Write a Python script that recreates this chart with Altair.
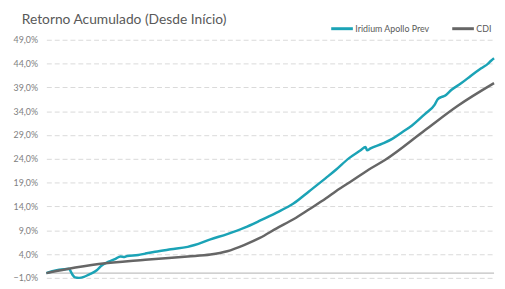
import altair as alt
import pandas as pd

# Period index (approximate position along the time axis) and cumulative return (%)
iridium_t = [0, 6, 13, 20, 23, 25, 27, 29, 33, 38, 43, 51, 56, 63, 70, 75, 79, 82, 93, 100,
             110, 126, 143, 150, 166, 183, 200, 216, 233, 250, 266, 283, 293, 306, 318, 323,
             324.5, 328, 340, 350, 360, 370, 383, 393, 396, 400, 403, 410, 420, 430, 440,
             447, 450, 453]
iridium_v = [0, 0.4, 0.7, 0.85, 0.9, 0.2, -0.5, -0.9, -1.0, -0.8, -0.3, 0.6, 1.6, 2.4, 3.0,
             3.5, 3.4, 3.6, 3.8, 4.1, 4.5, 5.0, 5.5, 5.9, 7.1, 8.2, 9.5, 11.0, 12.7, 14.6,
             17.2, 20.0, 21.7, 24.1, 25.8, 26.5, 25.8, 26.2, 27.2, 28.2, 29.6, 31.0, 33.4,
             35.4, 36.5, 37.0, 37.2, 38.5, 39.9, 41.5, 43.0, 44.0, 44.6, 45.1]

cdi_t = [0, 20, 53, 100, 143, 166, 183, 200, 216, 233, 250, 266, 283, 293, 310, 326, 343,
         383, 416, 453]
cdi_v = [0, 0.8, 1.9, 2.8, 3.5, 3.9, 4.6, 5.9, 7.4, 9.4, 11.3, 13.4, 15.7, 17.2, 19.5,
         21.7, 23.8, 30.0, 35.1, 39.9]

series_names = ["Iridium Apollo Prev", "CDI"]
series_colors = ["#1ba3b6", "#666666"]
y_ticks = [-1, 4, 9, 14, 19, 24, 29, 34, 39, 44, 49]

df = pd.concat([
    pd.DataFrame({"t": iridium_t, "v": iridium_v, "s": series_names[0], "o": 0}),
    pd.DataFrame({"t": cdi_t, "v": cdi_v, "s": series_names[1], "o": 1}),
])

yscale = alt.Scale(domain=[-1, 49], nice=False, zero=False)
yaxis = alt.Axis(values=y_ticks, title=None, domain=False, ticks=False,
                 labelOverlap=False,
                 labelExpr="replace(format(datum.value, '.1f'), '.', ',') + '%'",
                 labelFont="Lato", labelFontSize=9, labelColor="#808080",
                 labelPadding=9, grid=True, gridDash=[5, 3],
                 gridColor="#d9d9d9", gridWidth=1)

zero = alt.Chart(pd.DataFrame({"z": [0]})).mark_rule(color="#c0c0c0", strokeWidth=1.5).encode(
    y=alt.Y("z:Q", scale=yscale, axis=yaxis)
)

lines = alt.Chart(df).mark_line(strokeWidth=2.5, interpolate="monotone").encode(
    x=alt.X("t:Q", axis=None, scale=alt.Scale(domain=[0, 453], nice=False, zero=False)),
    y=alt.Y("v:Q", scale=yscale, axis=yaxis),
    color=alt.Color("s:N", scale=alt.Scale(domain=series_names, range=series_colors),
                    legend=alt.Legend(title=None, orient="none", direction="horizontal",
                                      legendX=288, legendY=-24, symbolType="stroke",
                                      symbolSize=484, symbolStrokeWidth=3,
                                      labelFont="Lato", labelFontSize=9,
                                      labelColor="#595959", labelOffset=1,
                                      columnPadding=16)),
    order="o:Q",
)

chart = alt.layer(zero, lines).properties(
    width=455, height=242,
    autosize=alt.AutoSizeParams(type="none"),
    padding={"left": 39, "top": 30, "right": 3, "bottom": 8},
    title=alt.TitleParams("Retorno Acumulado (Desde Início)", anchor="start", font="Lato",
                          frame="group", fontSize=14, fontWeight="normal", color="#595959",
                          dx=-25, dy=19, offset=8),
).configure_view(stroke=None).configure_axis(labelOverlap=False)

chart.save("out.html", embed_options={"renderer": "svg", "actions": False})
